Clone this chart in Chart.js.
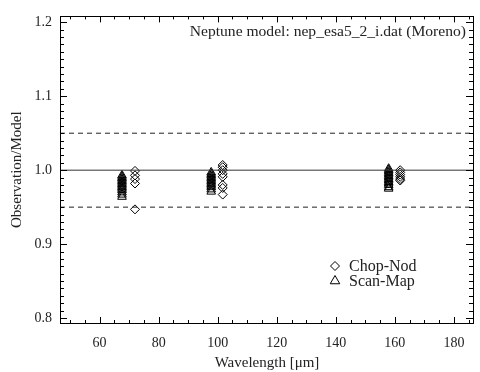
<!DOCTYPE html>
<html>
<head>
<meta charset="utf-8">
<script src="https://cdn.jsdelivr.net/npm/chart.js@4/dist/chart.umd.min.js"></script>
<style>
  html, body { margin: 0; padding: 0; background: #fff; }
  #wrap { width: 480px; height: 372px; }
</style>
</head>
<body>
<div id="wrap"><canvas id="chart"></canvas></div>
<script>
// axis ranges and ticks
const xRange = [46.6, 186.8];
const yRange = [0.7933, 1.208];
const xTicks = [60, 80, 100, 120, 140, 160, 180];
const yTicks = [0.8, 0.9, 1.0, 1.1, 1.2];
const xMinorStep = 5;
const yMinorStep = 0.01;

// Chop-Nod (diamonds)
const chopNodX = [72.0, 72.0, 72.0, 72.0, 72.0,
  101.7, 101.7, 101.7, 101.7, 101.7, 101.7, 101.7, 101.7,
  161.8, 161.8, 161.8, 161.8, 161.8, 161.8];
const chopNodY = [0.999, 0.993, 0.988, 0.982, 0.947,
  1.007, 1.004, 1.000, 0.995, 0.991, 0.980, 0.976, 0.967,
  1.000, 0.997, 0.994, 0.991, 0.988, 0.986];

// Scan-Map (triangles)
const scanMapX = [67.6, 67.6, 67.6, 67.6, 67.6, 67.6, 67.6, 67.6, 67.6, 67.6, 67.6, 67.6, 67.6, 67.6,
  97.8, 97.8, 97.8, 97.8, 97.8, 97.8, 97.8, 97.8, 97.8, 97.8, 97.8, 97.8, 97.8,
  157.9, 157.9, 157.9, 157.9, 157.9, 157.9, 157.9, 157.9, 157.9, 157.9, 157.9, 157.9, 157.9, 157.9];
const scanMapY = [0.993, 0.991, 0.989, 0.987, 0.985, 0.983, 0.981, 0.979, 0.977, 0.975, 0.973, 0.970, 0.967, 0.964,
  0.997, 0.995, 0.993, 0.991, 0.989, 0.987, 0.985, 0.983, 0.981, 0.979, 0.977, 0.974, 0.971,
  1.002, 1.000, 0.998, 0.996, 0.994, 0.992, 0.990, 0.988, 0.986, 0.984, 0.982, 0.980, 0.977, 0.975];

// reference lines
const refLevels = [1.0, 0.95, 1.05];

const serif = "'Liberation Serif', 'DejaVu Serif', serif";

function toPoints(xs, ys) {
  return xs.map((x, i) => ({ x: x, y: ys[i] }));
}

function refLine(level, dashed) {
  return {
    label: 'ref' + level,
    data: [{ x: xRange[0], y: level }, { x: xRange[1], y: level }],
    borderColor: dashed ? '#222' : '#333',
    borderWidth: 1,
    borderDash: dashed ? [5, 4] : [],
    pointRadius: 0,
    showLine: true,
    fill: false
  };
}

// box with inward ticks on all four sides, plus title text and legend
const framePlugin = {
  id: 'frame',
  afterDraw(chart) {
    const ctx = chart.ctx;
    const a = chart.chartArea;
    const xs = chart.scales.x;
    const ys = chart.scales.y;
    ctx.save();
    ctx.strokeStyle = '#000';
    ctx.lineWidth = 1;
    ctx.strokeRect(Math.round(a.left) + 0.5, Math.round(a.top) + 0.5,
      Math.round(a.right - a.left) - 1, Math.round(a.bottom - a.top));

    ctx.beginPath();
    // x ticks
    for (let v = Math.ceil(xRange[0] / xMinorStep) * xMinorStep; v <= xRange[1]; v += xMinorStep) {
      const px = Math.round(xs.getPixelForValue(v)) + 0.5;
      const len = xTicks.includes(v) ? 6 : 3;
      ctx.moveTo(px, a.bottom); ctx.lineTo(px, a.bottom - len);
      ctx.moveTo(px, a.top); ctx.lineTo(px, a.top + len);
    }
    // y ticks
    for (let i = Math.ceil(yRange[0] / yMinorStep); i * yMinorStep <= yRange[1]; i++) {
      const v = i * yMinorStep;
      const py = Math.round(ys.getPixelForValue(v)) + 0.5;
      const len = (i % 10 === 0) ? 7 : 4;
      ctx.moveTo(a.left, py); ctx.lineTo(a.left + len, py);
      ctx.moveTo(a.right - 1, py); ctx.lineTo(a.right - 1 - len, py);
    }
    ctx.stroke();

    // model label
    ctx.fillStyle = '#222';
    ctx.font = '15.6px ' + serif;
    ctx.textAlign = 'right';
    ctx.textBaseline = 'alphabetic';
    ctx.fillText('Neptune model: nep_esa5_2_i.dat (Moreno)', 466, 36);

    // legend
    const items = [
      { ds: chart.data.datasets[3], text: 'Chop-Nod', y: 266, r: 4.5 },
      { ds: chart.data.datasets[4], text: 'Scan-Map', y: 281, r: 5.5 }
    ];
    ctx.textAlign = 'left';
    ctx.textBaseline = 'middle';
    items.forEach(it => {
      ctx.strokeStyle = '#000';
      ctx.fillStyle = 'rgba(0,0,0,0)';
      ctx.lineWidth = 1;
      Chart.helpers.drawPoint(ctx, {
        pointStyle: it.ds.pointStyle,
        radius: it.r,
        borderWidth: 1,
        rotation: 0
      }, 335, it.y);
      ctx.fillStyle = '#222';
      ctx.font = '16px ' + serif;
      ctx.fillText(it.text, 349, it.y + 1);
    });
    ctx.restore();
  }
};

const ctx = document.getElementById('chart');
new Chart(ctx, {
  type: 'scatter',
  data: {
    datasets: [
      refLine(refLevels[0], false),
      refLine(refLevels[1], true),
      refLine(refLevels[2], true),
      {
        label: 'Chop-Nod',
        data: toPoints(chopNodX, chopNodY),
        pointStyle: 'rectRot',
        pointRadius: 4.5,
        borderColor: '#000',
        borderWidth: 1,
        backgroundColor: 'rgba(0,0,0,0)'
      },
      {
        label: 'Scan-Map',
        data: toPoints(scanMapX, scanMapY),
        pointStyle: 'triangle',
        pointRadius: 5,
        borderColor: '#000',
        borderWidth: 1,
        backgroundColor: 'rgba(0,0,0,0)'
      }
    ]
  },
  options: {
    responsive: true,
    maintainAspectRatio: false,
    animation: false,
    layout: { padding: { top: 14, right: 4, left: 0, bottom: 0 } },
    plugins: {
      legend: { display: false },
      tooltip: { enabled: false }
    },
    scales: {
      x: {
        type: 'linear',
        min: xRange[0],
        max: xRange[1],
        afterBuildTicks: (s) => { s.ticks = xTicks.map(v => ({ value: v })); },
        afterFit: (s) => { s.height = 49; },
        grid: { display: false, drawTicks: false },
        border: { display: false },
        ticks: {
          color: '#222',
          font: { family: serif, size: 14 },
          padding: 12,
          maxRotation: 0
        },
        title: {
          display: true,
          text: 'Wavelength [μm]',
          color: '#222',
          font: { family: serif, size: 15 },
          padding: { top: 0, bottom: 0 }
        }
      },
      y: {
        type: 'linear',
        min: yRange[0],
        max: yRange[1],
        afterBuildTicks: (s) => { s.ticks = yTicks.map(v => ({ value: v })); },
        afterFit: (s) => { s.width = 60; },
        grid: { display: false, drawTicks: false },
        border: { display: false },
        ticks: {
          color: '#222',
          font: { family: serif, size: 14 },
          padding: 8,
          callback: (v) => v.toFixed(1)
        },
        title: {
          display: true,
          text: 'Observation/Model',
          color: '#222',
          font: { family: serif, size: 15 },
          padding: { top: 8, bottom: 0 }
        }
      }
    }
  },
  plugins: [framePlugin]
});
</script>
</body>
</html>
